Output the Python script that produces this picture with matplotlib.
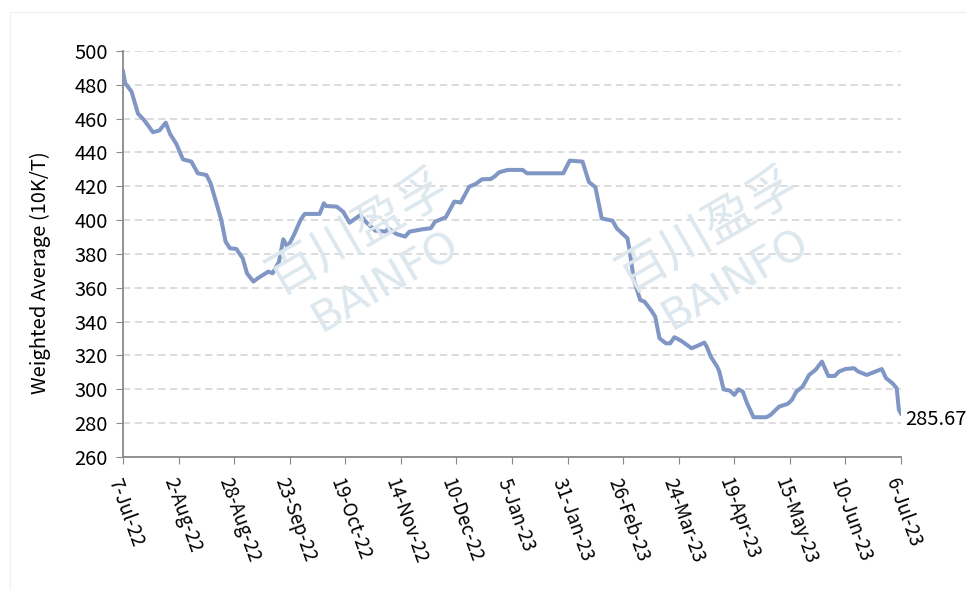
import pandas as pd
import matplotlib.pyplot as plt
from matplotlib.patches import Rectangle

plt.rcParams['font.family'] = ['Noto Sans CJK SC', 'DejaVu Sans']

dates = ['2022-07-07', '2022-07-08', '2022-07-11', '2022-07-14', '2022-07-17', '2022-07-21',
         '2022-07-24', '2022-07-27', '2022-07-29', '2022-08-01', '2022-08-04', '2022-08-08',
         '2022-08-11', '2022-08-15', '2022-08-17', '2022-08-22', '2022-08-24', '2022-08-26',
         '2022-08-29', '2022-09-01', '2022-09-03', '2022-09-06', '2022-09-08', '2022-09-13',
         '2022-09-15', '2022-09-18', '2022-09-20', '2022-09-22', '2022-09-25', '2022-09-28',
         '2022-09-30', '2022-10-07', '2022-10-09', '2022-10-10', '2022-10-15', '2022-10-18',
         '2022-10-21', '2022-10-26', '2022-10-29', '2022-11-02', '2022-11-07', '2022-11-08',
         '2022-11-12', '2022-11-16', '2022-11-18', '2022-11-24', '2022-11-28', '2022-11-30',
         '2022-12-05', '2022-12-09', '2022-12-12', '2022-12-16', '2022-12-19', '2022-12-22',
         '2022-12-26', '2022-12-28', '2022-12-30', '2023-01-03', '2023-01-10', '2023-01-12',
         '2023-01-29', '2023-02-01', '2023-02-07', '2023-02-10', '2023-02-13', '2023-02-16',
         '2023-02-21', '2023-02-23', '2023-02-28', '2023-03-01', '2023-03-03', '2023-03-06',
         '2023-03-08', '2023-03-11', '2023-03-13', '2023-03-15', '2023-03-18', '2023-03-20',
         '2023-03-22', '2023-03-25', '2023-03-30', '2023-04-01', '2023-04-05', '2023-04-06',
         '2023-04-08', '2023-04-11', '2023-04-12', '2023-04-14', '2023-04-17', '2023-04-19',
         '2023-04-21', '2023-04-23', '2023-04-25', '2023-04-28', '2023-05-04', '2023-05-06',
         '2023-05-10', '2023-05-14', '2023-05-16', '2023-05-18', '2023-05-21', '2023-05-24',
         '2023-05-27', '2023-05-30', '2023-06-02', '2023-06-05', '2023-06-07', '2023-06-10',
         '2023-06-14', '2023-06-16', '2023-06-20', '2023-06-24', '2023-06-27', '2023-06-29',
         '2023-07-02', '2023-07-04', '2023-07-05', '2023-07-06']
values = [488.0, 481.0, 476.0, 463.0, 459.0, 452.0,
          453.0, 457.6, 451.0, 445.0, 436.0, 434.6,
          427.7, 426.7, 421.8, 400.0, 387.3, 383.4,
          383.0, 377.5, 368.6, 363.7, 365.6, 369.6,
          368.6, 375.5, 388.7, 384.0, 391.3, 400.0,
          403.7, 403.7, 410.0, 408.4, 408.0, 405.0,
          398.5, 403.0, 398.5, 393.8, 393.2, 395.2,
          391.8, 390.3, 393.2, 394.6, 395.2, 399.1,
          401.7, 411.0, 410.4, 419.8, 421.4, 424.2,
          424.3, 426.0, 428.3, 429.7, 429.7, 427.7,
          427.7, 435.2, 434.6, 422.5, 419.5, 401.0,
          399.7, 395.2, 389.3, 382.4, 364.7, 352.8,
          351.8, 346.9, 343.0, 330.2, 327.2, 327.2,
          330.8, 328.8, 324.3, 325.3, 327.6, 325.5,
          319.3, 313.4, 310.5, 300.0, 299.2, 296.7,
          300.0, 298.6, 291.7, 283.5, 283.5, 284.9,
          289.8, 291.4, 293.8, 298.6, 301.6, 308.5,
          311.5, 316.4, 307.9, 307.9, 310.5, 312.0,
          312.5, 310.5, 308.5, 310.5, 312.0, 306.6,
          303.6, 300.6, 288.0, 285.67]

tick_dates = pd.date_range('2022-07-07', '2023-07-06', freq='26D')
tick_labels = [d.strftime('%-d-%b-%y') for d in tick_dates]
y_ticks = list(range(260, 501, 20))

df = pd.DataFrame({'date': pd.to_datetime(dates), 'value': values})

fig = plt.figure(figsize=(9.66, 5.90), dpi=100)
fig.patches.append(Rectangle((10 / 966, -0.1), 1.2, 1 - 12 / 590 + 0.1, transform=fig.transFigure,
                             fill=False, edgecolor='#f2f2f2', linewidth=1))
ax = fig.add_axes([123 / 966, 1 - 457 / 590, (901 - 123) / 966, (457 - 51) / 590])

# watermark
wm = '#dde7ee'
for cx, cy in [(358, 232), (708, 230)]:
    fig.text(cx / 966, 1 - cy / 590, '百川盈孚', fontsize=36, color=wm, rotation=30,
             ha='center', va='center', fontweight='medium', zorder=0)
    fig.text((cx + 28) / 966, 1 - (cy + 50) / 590, 'BAINFO', fontsize=31, color=wm, rotation=30,
             ha='center', va='center', family=['DejaVu Sans'], zorder=0)

ax.patch.set_alpha(0)
ax.plot(df['date'], df['value'], color='#8096c4', linewidth=2.9, solid_joinstyle='round', zorder=3)

ax.set_xlim(tick_dates[0], tick_dates[-1])
ax.set_ylim(260, 500)
ax.set_yticks(y_ticks)
ax.set_xticks(tick_dates)
ax.set_xticklabels(tick_labels, rotation=-70, ha='left', va='top', rotation_mode='anchor', fontsize=13.5)
ax.tick_params(axis='y', labelsize=14.5, length=5, color='#898989', pad=6)
ax.tick_params(axis='x', length=5, color='#898989', pad=8)
ax.grid(axis='y', color='#d9d9d9', linestyle=(0, (4, 2.5)), linewidth=1.3)
ax.set_axisbelow(True)
for s in ['top', 'right']:
    ax.spines[s].set_visible(False)
for s in ['left', 'bottom']:
    ax.spines[s].set_color('#898989')
    ax.spines[s].set_linewidth(1.3)
ax.set_ylabel('Weighted Average (10K/T)', fontsize=14.5)
ax.yaxis.set_label_coords(-0.093, 0.455)

ax.annotate('285.67', (df['date'].iloc[-1], df['value'].iloc[-1]), xytext=(3, -4),
            textcoords='offset points', fontsize=14.5, va='center', ha='left', annotation_clip=False)

fig.savefig('out.png', dpi=100)
